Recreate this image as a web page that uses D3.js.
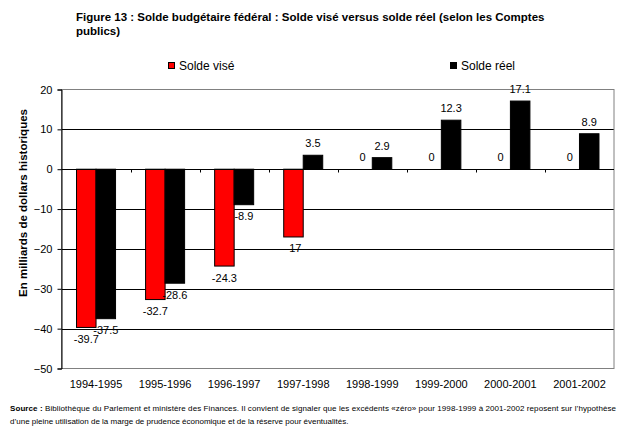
<!DOCTYPE html>
<html>
<head>
<meta charset="utf-8">
<script src="https://cdn.jsdelivr.net/npm/d3@7"></script>
<style>
  body { margin: 0; background: #fff; }
  svg { font-family: "Liberation Sans", Arial, sans-serif; }
</style>
</head>
<body>
<div id="chart"></div>
<script>
const categories = ['1994-1995', '1995-1996', '1996-1997', '1997-1998',
    '1998-1999', '1999-2000', '2000-2001', '2001-2002'];
const series = ['Solde visé', 'Solde réel'];
const soldeVise = [-39.7, -32.7, -24.3, -17, 0, 0, 0, 0];
const soldeReel = [-37.5, -28.6, -8.9, 3.5, 2.9, 12.3, 17.1, 8.9];
const yTicks = [20, 10, 0, -10, -20, -30, -40, -50];
const colors = ['#ff0000', '#000000'];

const width = 629, height = 437;
const plot = { left: 61.5, right: 614, top: 89.5, bottom: 368.5 };

const svg = d3.select('#chart').append('svg')
    .attr('width', width)
    .attr('height', height);

// Title
svg.append('text')
    .attr('x', 76).attr('y', 21)
    .attr('font-size', 11.5).attr('font-weight', 'bold')
    .text('Figure 13 : Solde budgétaire fédéral : Solde visé versus solde réel (selon les Comptes');
svg.append('text')
    .attr('x', 76).attr('y', 35)
    .attr('font-size', 11.5).attr('font-weight', 'bold')
    .text('publics)');

// Legend
const legendX = [168, 450];
series.forEach((s, i) => {
    svg.append('rect')
        .attr('x', legendX[i] + 0.5).attr('y', 62.5)
        .attr('width', 6).attr('height', 6)
        .attr('fill', colors[i]).attr('stroke', '#000');
    svg.append('text')
        .attr('x', legendX[i] + 11).attr('y', 70)
        .attr('font-size', 12)
        .text(s);
});

const y = d3.scaleLinear()
    .domain([-50, 20])
    .range([plot.bottom, plot.top]);

const x0 = d3.scaleBand()
    .domain(categories)
    .range([plot.left, plot.right]);

const x1 = d3.scaleBand()
    .domain(series)
    .range([0, x0.bandwidth()])
    .paddingOuter(0.77);

// Gridlines
svg.append('g')
    .selectAll('line')
    .data(yTicks.filter(d => d !== 20 && d !== -50))
    .enter().append('line')
    .attr('x1', plot.left).attr('x2', plot.right)
    .attr('y1', d => Math.round(y(d)) + 0.5).attr('y2', d => Math.round(y(d)) + 0.5)
    .attr('stroke', '#000');

// Plot border (gray)
svg.append('rect')
    .attr('x', plot.left).attr('y', plot.top)
    .attr('width', plot.right - plot.left).attr('height', plot.bottom - plot.top)
    .attr('fill', 'none').attr('stroke', '#808080');

// Bars
const rows = categories.map((c, i) => ({ cat: c, values: [soldeVise[i], soldeReel[i]] }));

const groups = svg.append('g')
    .selectAll('g')
    .data(rows)
    .enter().append('g')
    .attr('transform', d => `translate(${x0(d.cat)},0)`);

groups.selectAll('rect')
    .data(d => d.values.map((v, i) => ({ key: series[i], value: v, i })))
    .enter().append('rect')
    .filter(d => d.value !== 0)
    .attr('x', d => x1(d.key))
    .attr('y', d => y(Math.max(0, d.value)))
    .attr('width', x1.bandwidth())
    .attr('height', d => Math.abs(y(d.value) - y(0)))
    .attr('fill', d => colors[d.i])
    .attr('stroke', '#000');

// Data labels
groups.selectAll('text')
    .data(d => d.values.map((v, i) => ({ key: series[i], value: v })))
    .enter().append('text')
    .attr('x', d => x1(d.key) + x1.bandwidth() / 2)
    .attr('y', d => d.value >= 0 ? y(d.value) - 8 : y(d.value) + 15.5)
    .attr('text-anchor', 'middle')
    .attr('font-size', 11)
    .text(d => d.value);

// Y axis
const yAxis = d3.axisLeft(y)
    .tickValues(yTicks)
    .tickSize(4)
    .tickPadding(5);

const yg = svg.append('g')
    .attr('transform', `translate(${plot.left},0)`)
    .call(yAxis);
yg.select('.domain').attr('stroke', '#000');
yg.selectAll('text').attr('font-size', 11).attr('font-family', 'Liberation Sans, Arial, sans-serif');

// Zero axis with category ticks
const zeroY = Math.round(y(0)) + 0.5;
svg.append('line')
    .attr('x1', plot.left).attr('x2', plot.right)
    .attr('y1', zeroY).attr('y2', zeroY)
    .attr('stroke', '#000');
svg.append('g')
    .selectAll('line')
    .data(categories.slice(1))
    .enter().append('line')
    .attr('x1', d => Math.round(x0(d)) + 0.5).attr('x2', d => Math.round(x0(d)) + 0.5)
    .attr('y1', zeroY).attr('y2', zeroY + 3)
    .attr('stroke', '#000');

// Category labels
svg.append('g')
    .selectAll('text')
    .data(categories)
    .enter().append('text')
    .attr('x', d => x0(d) + x0.bandwidth() / 2)
    .attr('y', 388)
    .attr('text-anchor', 'middle')
    .attr('font-size', 11)
    .text(d => d);

// Y axis title
svg.append('text')
    .attr('transform', 'translate(27,203) rotate(-90)')
    .attr('text-anchor', 'middle')
    .attr('font-size', 11.5).attr('font-weight', 'bold')
    .text('En milliards de dollars historiques');

// Source note
const note1 = svg.append('text')
    .attr('x', 10).attr('y', 411)
    .attr('font-size', 8)
    .attr('textLength', 606)
    .attr('lengthAdjust', 'spacing');
note1.append('tspan').attr('font-weight', 'bold').text('Source : ');
note1.append('tspan').text('Bibliothèque du Parlement et ministère des Finances. Il convient de signaler que les excédents «zéro» pour 1998-1999 à 2001-2002 reposent sur l\u2019hypothèse');
svg.append('text')
    .attr('x', 10).attr('y', 424)
    .attr('font-size', 8)
    .text('d\u2019une pleine utilisation de la marge de prudence économique et de la réserve pour éventualités.');
</script>
</body>
</html>
